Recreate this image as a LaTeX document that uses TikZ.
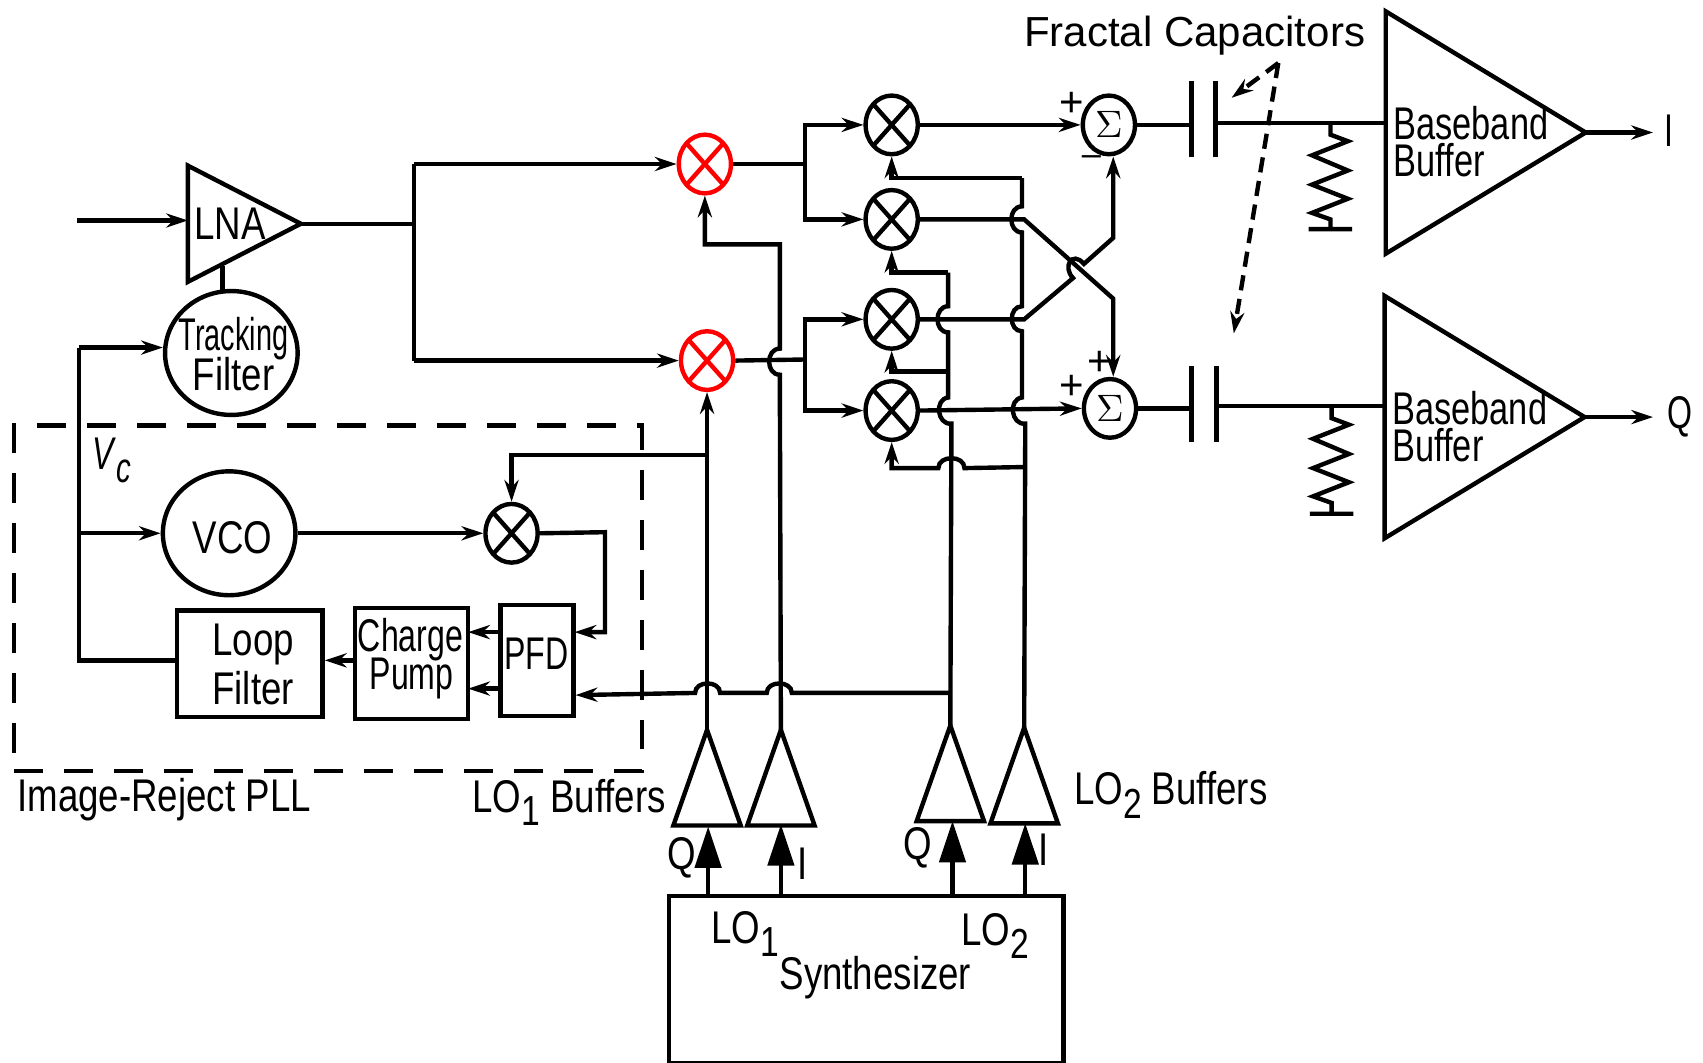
\documentclass[tikz,border=0pt]{standalone}
\usepackage{fontspec}
\setmainfont{Liberation Sans}
\newfontfamily\narrowfont[FakeStretch=0.80]{Liberation Sans}
\newfontfamily\bbfont[FakeStretch=0.75]{Liberation Sans}
\newfontfamily\slimfont[FakeStretch=0.70]{Liberation Sans}
\newfontfamily\trackfont[FakeStretch=0.63]{Liberation Sans}
\usetikzlibrary{shapes.geometric, arrows.meta}
\newcommand{\losub}[1]{LO\raisebox{-0.55ex}{\fontsize{11}{11}\selectfont #1}}
\tikzset{
    arrow/.style={-{Stealth[length=2mm,width=1.3mm]}},
    bigarrow/.style={-{Triangle[length=3.8mm,width=2.4mm]}},
    txt/.style={inner sep=0pt, font=\fontsize{12}{9.7}\selectfont},
    amp/.style={isosceles triangle, isosceles triangle stretches, draw, inner sep=0pt, outer sep=0pt, anchor=apex},
    buf/.style={amp, shape border rotate=90, minimum width=0.62cm, minimum height=0.88cm},
    bb/.style={amp, minimum width=2.23cm, minimum height=1.84cm},
    block/.style={draw, inner sep=0pt},
    bigcircle/.style={ellipse, draw, inner sep=0pt, minimum width=1.22cm, minimum height=1.14cm},
    sumnode/.style={ellipse, draw, inner sep=0pt, minimum width=0.48cm, minimum height=0.54cm, font=\fontsize{10}{10}\selectfont},
    mixer/.style={ellipse, draw=#1, inner sep=0pt, minimum width=0.48cm, minimum height=0.54cm,
        path picture={\draw[#1] (path picture bounding box.north west) -- (path picture bounding box.south east)
            (path picture bounding box.south west) -- (path picture bounding box.north east);}},
    mixer/.default=black,
    hopv/.style={bend left=90, looseness=1.4},
    hoph/.style={bend right=90, looseness=1.3}
}

\begin{document}
\begin{tikzpicture}[x=0.01cm, y=-0.01cm, line width=1.15pt]
    \useasboundingbox (0,0) rectangle (1568,978);

    %Nodes
    \node[amp, minimum width=1.07cm, minimum height=1.04cm] at (277,206) (lna) {};
    \node[bigcircle] at (213,325) (track) {};
    \node[bigcircle] at (211,491) (vco) {};
    \node[mixer] at (471,491) (mpll) {};
    \node[block, minimum width=0.67cm, minimum height=1.02cm] at (494.5,608) (pfd) {};
    \node[block, minimum width=1.04cm, minimum height=1.02cm] at (379,611) (cp) {};
    \node[block, minimum width=1.34cm, minimum height=0.98cm] at (230,611) (lf) {};
    \node[draw, dashed, dash pattern=on 0.27cm off 0.19cm, minimum width=5.78cm, minimum height=3.18cm] at (302,551) (pll) {};

    \node[mixer=red] at (649,151) (m1) {};
    \node[mixer=red] at (651,332) (m2) {};
    \node[mixer] at (821,115) (ma) {};
    \node[mixer] at (821,202) (mb) {};
    \node[mixer] at (821,294) (mc) {};
    \node[mixer] at (821,378) (md) {};
    \node[sumnode] at (1021,115) (s1) {$\Sigma$};
    \node[sumnode] at (1022,376) (s2) {$\Sigma$};

    \node[bb] at (1460,122) (bb1) {};
    \node[bb] at (1459,384) (bb2) {};
    \node[buf] at (651,672) (bq1) {};
    \node[buf] at (719,672) (bi1) {};
    \node[buf] at (875,668) (bq2) {};
    \node[buf] at (943,670) (bi2) {};
    \node[draw, minimum width=3.63cm, minimum height=1.54cm] at (797.5,902) (synth) {};

    %Labels
    \node[txt] at (212,206) (lnatxt) {\narrowfont LNA};
    \node[txt] at (215,312) (trk1) {\trackfont Tracking};
    \node[txt] at (215,344) (trk2) {\narrowfont Filter};
    \node[txt] at (214,495) (vcotxt) {\narrowfont VCO};
    \node[txt] at (494,602) (pfdtxt) {\slimfont PFD};
    \node[txt] at (378,589) (cp1) {\slimfont Charge};
    \node[txt] at (379,625) (cp2) {\slimfont Pump};
    \node[txt] at (233,593) (lf1) {\narrowfont Loop};
    \node[txt] at (233,634) (lf2) {\narrowfont Filter};
    \node[txt, anchor=west, font=\fontsize{11}{12}\selectfont] at (941,33) (fclbl) {Fractal Capacitors};
    \node[txt, anchor=west, align=left] at (1281,130) (bbt1) {\bbfont Baseband\\\bbfont Buffer};
    \node[txt, anchor=west, align=left] at (1280,393) (bbt2) {\bbfont Baseband\\\bbfont Buffer};
    \node[txt] at (1537,120) (outi) {\slimfont I};
    \node[txt] at (1547,384) (outq) {\slimfont Q};
    \node[txt] at (103,424) (vclbl) {\slimfont\textit{V}\raisebox{-0.55ex}{\fontsize{11}{11}\selectfont\textit{c}}};
    \node[txt, anchor=west] at (14,736) (plllbl) {\narrowfont Image-Reject PLL};
    \node[txt, anchor=west] at (433,739) (lo1buf) {\narrowfont \losub{1} Buffers};
    \node[txt, anchor=west] at (987,732) (lo2buf) {\narrowfont \losub{2} Buffers};
    \node[txt] at (628,790) (lq1) {\narrowfont Q};
    \node[txt] at (739,795) (li1) {\narrowfont I};
    \node[txt] at (845,781) (lq2) {\narrowfont Q};
    \node[txt] at (961,782) (li2) {\narrowfont I};
    \node[txt, anchor=west] at (653,860) (lo1) {\narrowfont \losub{1}};
    \node[txt, anchor=west] at (883,862) (lo2) {\narrowfont \losub{2}};
    \node[txt] at (806,900) (synthlbl) {\narrowfont Synthesizer};
    \node[txt] at (987,96) (plusa) {\fontsize{11}{11}\selectfont +};
    \node[txt] at (1005,148) (minus) {\fontsize{9}{9}\selectfont --};
    \node[txt] at (1013,335) (plusb) {\fontsize{11}{11}\selectfont +};
    \node[txt] at (987,357) (plusc) {\fontsize{11}{11}\selectfont +};

    %Junctions
    \coordinate (in) at (71,203);
    \coordinate (lnain) at (173,203);
    \coordinate (lnaout) at (381,206);
    \coordinate (split1) at (381,151);
    \coordinate (split2) at (381,332);
    \coordinate (lnab) at (205,245);
    \coordinate (lnac) at (205,268);
    \coordinate (vt) at (73,320);
    \coordinate (vm) at (73,491);
    \coordinate (vb) at (73,608);
    \coordinate (mout) at (557,490);
    \coordinate (pfdtop) at (529,582);
    \coordinate (pfdu) at (461,582);
    \coordinate (pfdd) at (461,634);
    \coordinate (cpu) at (431,582);
    \coordinate (cpd) at (431,634);
    \coordinate (lotap) at (651,419);
    \coordinate (j1) at (741,151);
    \coordinate (j2) at (741,331);
    \coordinate (i1a) at (718,345);
    \coordinate (i1b) at (718,321);
    \coordinate (i1c) at (718,225);
    \coordinate (fb0) at (876,638);
    \coordinate (fb1) at (729,638);
    \coordinate (fb2) at (706,638);
    \coordinate (fb3) at (663,638);
    \coordinate (fb4) at (640,638);
    \coordinate (fb5) at (530,640);
    \coordinate (q2a) at (876,390);
    \coordinate (q2b) at (873,366);
    \coordinate (q2c) at (873,342);
    \coordinate (q2d) at (873,306);
    \coordinate (q2e) at (873,282);
    \coordinate (q2f) at (873,251);
    \coordinate (i2a) at (944,390);
    \coordinate (i2b) at (941,366);
    \coordinate (i2c) at (941,305);
    \coordinate (i2d) at (941,282);
    \coordinate (i2e) at (941,214);
    \coordinate (i2f) at (941,190);
    \coordinate (i2g) at (941,164);
    \coordinate (tapd) at (944,430);
    \coordinate (taph1) at (888,431);
    \coordinate (taph2) at (864,431);
    \coordinate (bc) at (943,202);
    \coordinate (bd) at (1025,275);
    \coordinate (cc) at (943,294);
    \coordinate (cd) at (988,256);
    \coordinate (ce) at (998,243);
    \coordinate (cf) at (1025,219);
    \coordinate (c1l) at (1097,115);
    \coordinate (c1r) at (1119,113);
    \coordinate (c1lt) at (1097,75);
    \coordinate (c1lb) at (1097,145);
    \coordinate (c1rt) at (1119,75);
    \coordinate (c1rb) at (1119,145);
    \coordinate (c2l) at (1097,376);
    \coordinate (c2r) at (1120,374);
    \coordinate (c2lt) at (1097,337);
    \coordinate (c2lb) at (1097,407);
    \coordinate (c2rt) at (1120,337);
    \coordinate (c2rb) at (1120,407);
    \coordinate (bbin1) at (1276,113);
    \coordinate (bbin2) at (1274,374);
    \coordinate (r1t) at (1225,113);
    \coordinate (r2t) at (1226,374);
    \coordinate (out1) at (1522,122);
    \coordinate (out2) at (1522,384);
    \coordinate (fc) at (1177,58);
    \coordinate (fca) at (1134,90);
    \coordinate (fcb) at (1136,307);
    \coordinate (qs1) at (652,825);
    \coordinate (is1) at (719,825);
    \coordinate (qs2) at (877,825);
    \coordinate (is2) at (944,825);
    \coordinate (qe1) at (652,761);
    \coordinate (ie1) at (719,759);
    \coordinate (qe2) at (877,756);
    \coordinate (ie2) at (944,758);

    %Lines
    \draw[arrow] (in) -- (lnain);
    \draw (lna.apex) -- (lnaout);
    \draw (lnab) -- (lnac);
    \draw (split1) -- (split2);
    \draw[arrow] (split1) -- (m1.west);
    \draw[arrow] (split2) -- (m2.west);
    \draw[arrow] (vt) -- (track.west |- vt);
    \draw (vt) -- (vb) -- (vb -| lf.west);
    \draw[arrow] (vm) -- (vco.west);
    \draw[arrow] (vco.east) -- (mpll.west);
    \draw[arrow] (mpll.east) -- (mout) |- (pfdtop);
    \draw[arrow] (pfdu) -- (cpu);
    \draw[arrow] (pfdd) -- (cpd);
    \draw[arrow] (cp.west |- vb) -- (lf.east |- vb);
    \draw[arrow] (bq1.apex) -- (m2.south);
    \draw[arrow] (lotap) -| (mpll.north);
    \draw[arrow] (bi1.apex) -- (i1a) to[hopv] (i1b) -- (i1c) -| (m1.south);
    \draw (m1.east) -- (j1);
    \draw (m2.east) -- (j2);
    \draw[arrow] (j1) |- (ma.west);
    \draw[arrow] (j1) |- (mb.west);
    \draw[arrow] (j2) |- (mc.west);
    \draw[arrow] (j2) |- (md.west);
    \draw[arrow] (fb0) -- (fb1) to[hoph] (fb2) -- (fb3) to[hoph] (fb4) -- (fb5);
    \draw (bq2.apex) -- (q2a) to[hopv] (q2b) -- (q2d) to[hopv] (q2e) -- (q2f);
    \draw (bi2.apex) -- (i2a) to[hopv] (i2b) -- (i2c) to[hopv] (i2d) -- (i2e) to[hopv] (i2f) -- (i2g);
    \draw[arrow] (i2g) -| (ma.south);
    \draw[arrow] (q2f) -| (mb.south);
    \draw[arrow] (q2c) -| (mc.south);
    \draw[arrow] (tapd) -- (taph1) to[hoph] (taph2) -| (md.south);
    \draw[arrow] (ma.east) -- (s1.west);
    \draw[arrow] (md.east) -- (s2.west);
    \draw[arrow] (mb.east) -- (bc) -- (bd) -- (bd |- s2.north);
    \draw[arrow] (mc.east) -- (cc) -- (cd) .. controls (978,246) and (987,230) .. (ce) -- (cf) -- (cf |- s1.south);

    %Output stages
    \draw (s1.east) -- (c1l);
    \draw (c1lt) -- (c1lb);
    \draw (c1rt) -- (c1rb);
    \draw (c1r) -- (bbin1);
    \draw (s2.east) -- (c2l);
    \draw (c2lt) -- (c2lb);
    \draw (c2rt) -- (c2rb);
    \draw (c2r) -- (bbin2);
    \draw (r1t) -- ++(0,11) -- ++(16,6) -- ++(-33,13) -- ++(33,14) -- ++(-33,13) -- ++(33,13) -- ++(-33,13) -- ++(17,6) -- ++(0,9) ++(-20,0) -- ++(40,0);
    \draw (r2t) -- ++(0,11) -- ++(16,6) -- ++(-33,13) -- ++(33,14) -- ++(-33,13) -- ++(33,13) -- ++(-33,13) -- ++(17,6) -- ++(0,10) ++(-20,0) -- ++(40,0);
    \draw[arrow] (bb1.apex) -- (out1);
    \draw[arrow] (bb2.apex) -- (out2);
    \draw[arrow, dashed, dash pattern=on 0.14cm off 0.08cm] (fc) -- (fca);
    \draw[arrow, dashed, dash pattern=on 0.14cm off 0.08cm] (fc) -- (fcb);

    %LO feeds
    \draw[bigarrow] (qs1) -- (qe1);
    \draw[bigarrow] (is1) -- (ie1);
    \draw[bigarrow] (qs2) -- (qe2);
    \draw[bigarrow] (is2) -- (ie2);
\end{tikzpicture}
\end{document}
